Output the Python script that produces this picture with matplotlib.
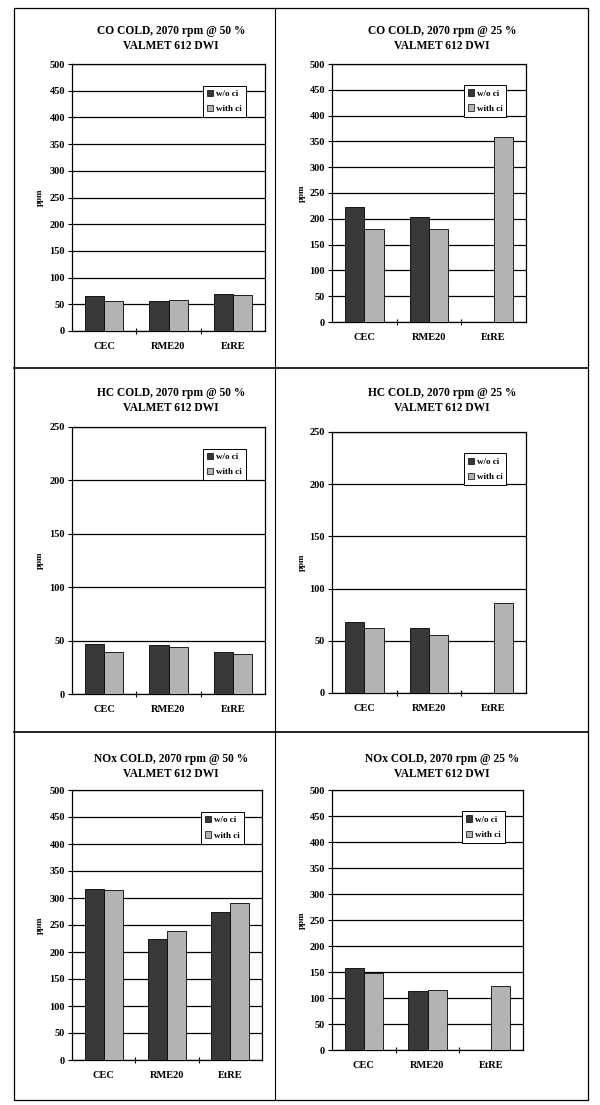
import numpy as np
import matplotlib
matplotlib.use("Agg")
import matplotlib.pyplot as plt
from matplotlib.patches import Patch, Rectangle

plt.rcParams["font.family"] = ["Liberation Serif", "DejaVu Serif"]
plt.rcParams["font.weight"] = "bold"

# datos
categorias = ["CEC", "RME20", "EtRE"]
series = ["w/o ci", "with ci"]

co50_sin = [66, 57, 70]
co50_con = [57, 58, 67]
co25_sin = [222, 204, np.nan]
co25_con = [181, 180, 358]
hc50_sin = [47, 46, 39]
hc50_con = [39, 44, 37]
hc25_sin = [68, 62, np.nan]
hc25_con = [62, 56, 86]
nox50_sin = [317, 225, 275]
nox50_con = [314, 238, 290]
nox25_sin = [158, 113, np.nan]
nox25_con = [148, 115, 124]

titulos = [
    "CO COLD, 2070 rpm @ 50 %", "CO COLD, 2070 rpm @ 25 %",
    "HC COLD, 2070 rpm @ 50 %", "HC COLD, 2070 rpm @ 25 %",
    "NOx COLD, 2070 rpm @ 50 %", "NOx COLD, 2070 rpm @ 25 %",
]
subtitulo = "VALMET 612 DWI"

W, H = 600, 1105
fig = plt.figure(figsize=(W / 100, H / 100), dpi=100)
fig.patch.set_facecolor("white")


def px_axes(x0, y0, x1, y1):
    return fig.add_axes([x0 / W, 1 - y1 / H, (x1 - x0) / W, (y1 - y0) / H])


# paneles: (caja del grafico en px, datos, ymax, paso, x del titulo, y del titulo, x de ppm)
paneles = [
    ((72, 64, 265, 331), co50_sin, co50_con, 500, 50, 171, 31, 40),
    ((332, 64, 526, 322), co25_sin, co25_con, 500, 50, 442, 31, 302),
    ((72, 427, 265, 694), hc50_sin, hc50_con, 250, 50, 171, 393, 40),
    ((332, 432, 526, 693), hc25_sin, hc25_con, 250, 50, 442, 393, 302),
    ((72, 790, 262, 1060), nox50_sin, nox50_con, 500, 50, 171, 759, 40),
    ((332, 790, 523, 1050), nox25_sin, nox25_con, 500, 50, 442, 759, 302),
]

color_osc = "#383838"
color_cla = "#b3b3b3"
x = np.arange(len(categorias))
ancho = 0.3

for i, (caja, sin, con, ymax, paso, tx, ty, px) in enumerate(paneles):
    ax = px_axes(*caja)
    ax.bar(x - ancho / 2, sin, ancho, color=color_osc, edgecolor="black", linewidth=0.6, zorder=3)
    ax.bar(x + ancho / 2, con, ancho, color=color_cla, edgecolor="black", linewidth=0.6, zorder=3)
    ax.set_xlim(-0.5, 2.5)
    ax.set_ylim(0, ymax)
    ax.set_yticks(np.arange(0, ymax + 1, paso))
    ax.set_xticks(x)
    ax.set_xticklabels(categorias)
    ax.set_xticks([0.5, 1.5], minor=True)
    ax.tick_params(axis="x", which="major", length=0, labelsize=7.5, pad=8)
    ax.tick_params(axis="x", which="minor", direction="inout", length=5, width=0.8)
    ax.tick_params(axis="y", direction="out", length=3, width=0.8, labelsize=7.5, pad=2)
    for lab in ax.get_xticklabels() + ax.get_yticklabels():
        lab.set_fontweight("bold")
    ax.grid(axis="y", color="black", linewidth=0.9, zorder=0)
    for s in ax.spines.values():
        s.set_linewidth(0.9)

    handles = [Patch(facecolor=color_osc, edgecolor="black", linewidth=0.5),
               Patch(facecolor=color_cla, edgecolor="black", linewidth=0.5)]
    leg = ax.legend(handles, series, loc="upper left", bbox_to_anchor=(0.655, 0.935),
                    fontsize=6.5, handlelength=0.7, handleheight=0.7, handletextpad=0.3,
                    borderpad=0.45, labelspacing=0.75, fancybox=False, framealpha=1,
                    edgecolor="black")
    leg.get_frame().set_linewidth(0.7)
    leg.set_zorder(5)

    fig.text(tx / W, 1 - ty / H, titulos[i], ha="center", va="center", fontsize=8.3, fontweight="bold")
    fig.text(tx / W, 1 - (ty + 15) / H, subtitulo, ha="center", va="center", fontsize=8.3, fontweight="bold")
    ycen = (caja[1] + caja[3]) / 2
    fig.text(px / W, 1 - ycen / H, "ppm", ha="center", va="center", rotation=90, fontsize=6.5, fontweight="bold")

# marcos de la pagina
fig.patches.append(Rectangle((14 / W, 1 - 1100 / H), (588 - 14) / W, (1100 - 8) / H,
                             transform=fig.transFigure, fill=False, edgecolor="black", linewidth=0.9))
fig.add_artist(plt.Line2D([275 / W, 275 / W], [1 - 8 / H, 1 - 1100 / H], color="black", linewidth=0.8))
for yy in [368, 732]:
    fig.add_artist(plt.Line2D([14 / W, 588 / W], [1 - yy / H, 1 - yy / H], color="black", linewidth=1.2))

fig.savefig("out.png", dpi=100)
